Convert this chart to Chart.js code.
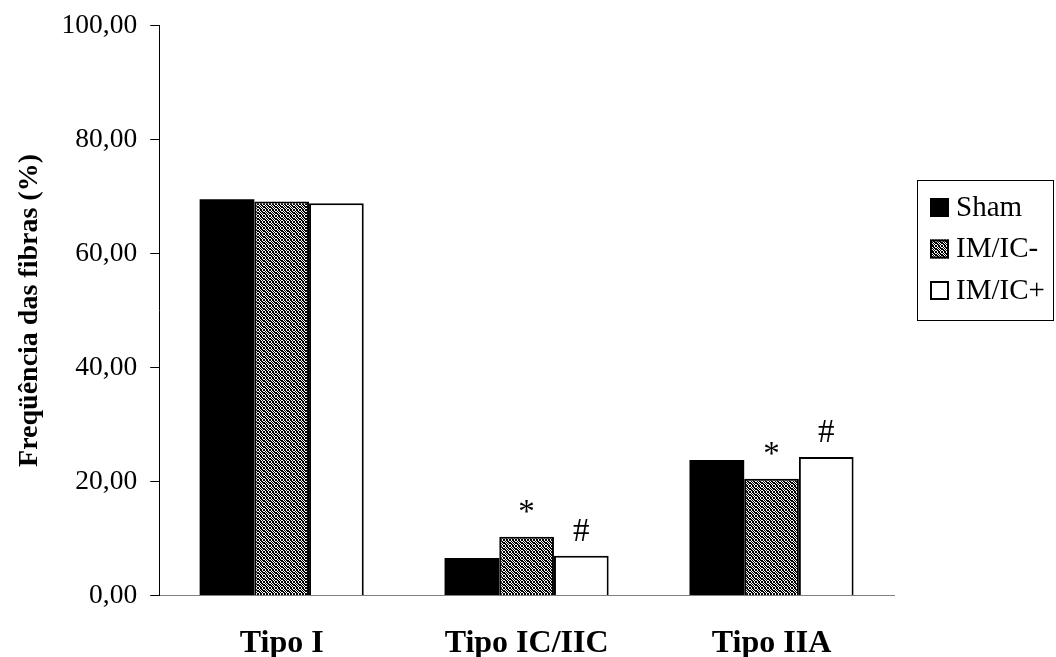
<!DOCTYPE html>
<html>
<head>
<meta charset="utf-8">
<script src="https://cdn.jsdelivr.net/npm/chart.js@4/dist/chart.umd.min.js"></script>
<style>
  html, body { margin:0; padding:0; background:#fff; }
  #wrap { width:1056px; height:657px; }
</style>
</head>
<body>
<div id="wrap"><canvas id="grafica" width="1056" height="657"></canvas></div>
<script>
// datos
const tipos = ["Tipo I", "Tipo IC/IIC", "Tipo IIA"];
const sham = [69.5, 6.6, 23.8];
const imIcMenos = [69.1, 10.3, 20.5];
const imIcMas = [68.8, 7.0, 24.3];
const marcasMenos = ["", "*", "*"];
const marcasMas = ["", "#", "#"];
const ticksY = [0, 20, 40, 60, 80, 100];

const fuente = "'Liberation Serif', 'Times New Roman', serif";

// trama del grupo IM/IC-
function trama() {
    const filas = [
        "101101",
        "010110",
        "101011",
        "110101",
        "011010",
        "101101"
    ];
    const c = document.createElement("canvas");
    c.width = 6; c.height = 6;
    const g = c.getContext("2d");
    g.fillStyle = "#fff";
    g.fillRect(0, 0, 6, 6);
    g.fillStyle = "#000";
    for (let y = 0; y < 6; y++)
        for (let x = 0; x < 6; x++)
            if (filas[y][x] == "1") g.fillRect(x, y, 1, 1);
    return g.createPattern(c, "repeat");
}
const patron = trama();

const marcas = {
    id: "marcas",
    afterDatasetsDraw(chart) {
        const ctx = chart.ctx;
        ctx.save();
        ctx.fillStyle = "#000";
        ctx.font = "33px " + fuente;
        ctx.textAlign = "center";
        ctx.textBaseline = "alphabetic";
        chart.data.datasets.forEach((ds, i) => {
            if (!ds.marcas) return;
            chart.getDatasetMeta(i).data.forEach((bar, j) => {
                if (ds.marcas[j]) ctx.fillText(ds.marcas[j], bar.x, bar.y - 15);
            });
        });
        ctx.restore();
    }
};

const leyenda = {
    id: "leyenda",
    afterDraw(chart) {
        const ctx = chart.ctx;
        const x0 = chart.chartArea.right + 23;
        const y0 = 180;
        ctx.save();
        ctx.strokeStyle = "#000";
        ctx.lineWidth = 1;
        ctx.strokeRect(x0 + 0.5, y0 + 0.5, 136, 140);
        ctx.font = "29px " + fuente;
        ctx.textBaseline = "middle";
        chart.data.datasets.forEach((ds, i) => {
            const cy = y0 + 27 + i * 41.5;
            ctx.fillStyle = ds.backgroundColor;
            ctx.fillRect(x0 + 13, cy - 9, 19, 19);
            ctx.lineWidth = 2;
            ctx.strokeRect(x0 + 14, cy - 8, 17, 17);
            ctx.fillStyle = "#000";
            ctx.fillText(ds.label, x0 + 39, cy + 1);
        });
        ctx.restore();
    }
};

new Chart(document.getElementById("grafica"), {
    type: "bar",
    data: {
        labels: tipos,
        datasets: [
            { label: "Sham", data: sham, backgroundColor: "#000", borderColor: "#000", borderWidth: 0 },
            { label: "IM/IC-", data: imIcMenos, backgroundColor: patron, borderColor: "#000", borderWidth: 2, marcas: marcasMenos },
            { label: "IM/IC+", data: imIcMas, backgroundColor: "#fff", borderColor: "#000", borderWidth: 2, marcas: marcasMas }
        ]
    },
    options: {
        responsive: false,
        animation: false,
        devicePixelRatio: 1,
        layout: { padding: { top: 21, left: 13, right: 162, bottom: -35 } },
        datasets: { bar: { barPercentage: 1, categoryPercentage: 0.67 } },
        plugins: {
            legend: { display: false },
            tooltip: { enabled: false }
        },
        scales: {
            x: {
                grid: { display: true, drawOnChartArea: false, drawTicks: false },
                border: { display: true, color: "#808080", width: 1 },
                ticks: { color: "#000", padding: 29, maxRotation: 0, minRotation: 0, font: { family: fuente, size: 32, weight: "bold" } }
            },
            y: {
                min: 0,
                max: 100,
                afterBuildTicks: (scale) => { scale.ticks = ticksY.map(v => ({ value: v })); },
                grid: { display: true, drawOnChartArea: false, drawTicks: true, tickLength: 9, color: "#000" },
                border: { display: true, color: "#000", width: 1 },
                ticks: {
                    color: "#000",
                    padding: 13,
                    font: { family: fuente, size: 27.5, lineHeight: 0.9 },
                    callback: (v) => v.toFixed(2).replace(".", ",")
                },
                title: {
                    display: true,
                    text: "Freqüência das fibras (%)",
                    color: "#000",
                    padding: { top: 0, bottom: 2 },
                    font: { family: fuente, size: 28, weight: "bold" }
                }
            }
        }
    },
    plugins: [marcas, leyenda]
});
</script>
</body>
</html>
